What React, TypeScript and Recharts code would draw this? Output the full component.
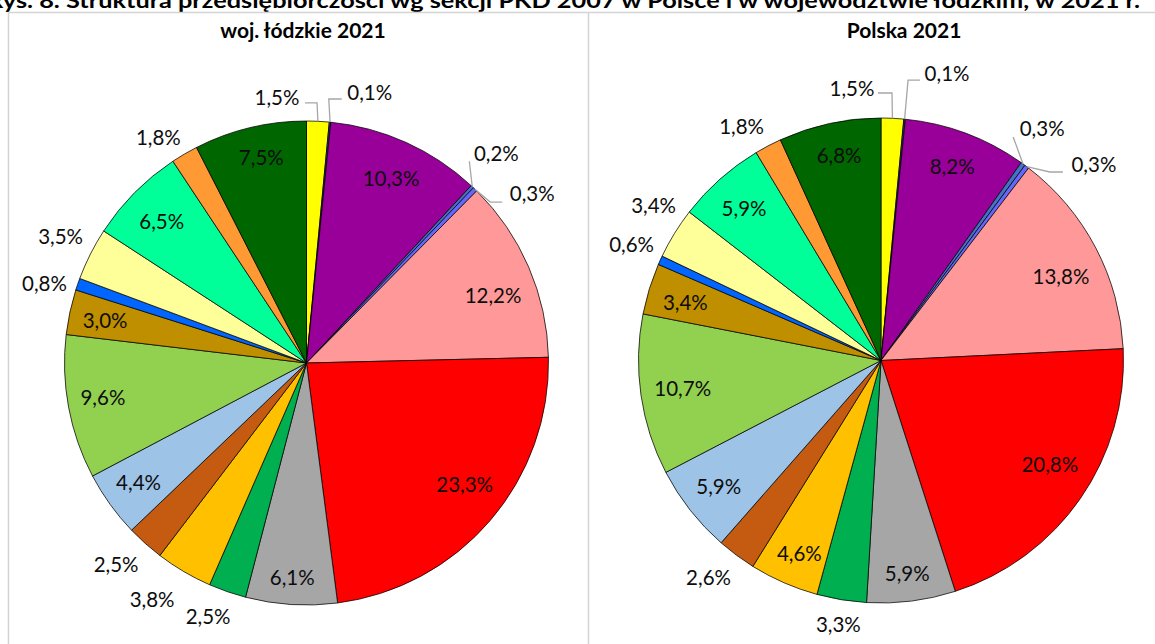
import { PieChart, Pie, Cell } from "recharts";

// sekcje PKD 2007, A..S
const sections = ["A", "B", "C", "D", "E", "F", "G", "H", "I", "J", "K", "L", "M", "N", "O", "P", "Q", "R", "S"];
const lodzkie2021 = [1.5, 0.1, 10.3, 0.2, 0.3, 12.2, 23.3, 6.1, 2.5, 3.8, 2.5, 4.4, 9.6, 3.0, 0.8, 3.5, 6.5, 1.8, 7.5];
const polska2021 = [1.5, 0.1, 8.2, 0.3, 0.3, 13.8, 20.8, 5.9, 3.3, 4.6, 2.6, 5.9, 10.7, 3.4, 0.6, 3.4, 5.9, 1.8, 6.8];

const sectionColors = [
  "#FFFF00", "#333399", "#990099", "#4472C4", "#6666FF", "#FF9999", "#FF0000", "#A6A6A6", "#00B050", "#FFC000",
  "#C55A11", "#9DC3E6", "#92D050", "#BF8F00", "#0066FF", "#FFFF99", "#00FF99", "#FF9933", "#006600",
];

const mainTitle = "Rys. 8. Struktura przedsiębiorczości wg sekcji PKD 2007 w Polsce i w województwie łódzkim, w 2021 r.";
const leftTitle = "woj. łódzkie 2021";
const rightTitle = "Polska 2021";

type Lead = { sx: number; sy: number; ex: number };
type Place = { da: number; rf: number; lead?: Lead };

// label placement (angle shift in degrees, radius factor), per slice
const leftPlaces: Place[] = [
  { da: -9.05, rf: 1.102, lead: { sx: 28, sy: 5, ex: 12 } },
  { da: 7.6, rf: 1.146, lead: { sx: -28, sy: 6, ex: -13 } },
  { da: 0.25, rf: 0.84 },
  { da: -1.1, rf: 1.169, lead: { sx: -27, sy: 8, ex: 0 } },
  { da: 9.05, rf: 1.165, lead: { sx: -30, sy: 8, ex: -12 } },
  { da: 3.6, rf: 0.819 },
  { da: -3.1, rf: 0.824 },
  { da: 0.2, rf: 0.89 },
  { da: 2.1, rf: 1.124 },
  { da: 2.7, rf: 1.167 },
  { da: 1.6, rf: 1.145 },
  { da: 0.4, rf: 0.851 },
  { da: 1.0, rf: 0.853 },
  { da: -0.4, rf: 0.85 },
  { da: -2.2, rf: 1.131 },
  { da: 0.4, rf: 1.142 },
  { da: -0.4, rf: 0.837 },
  { da: -3.0, rf: 1.116 },
  { da: 1.1, rf: 0.869 },
];

const rightPlaces: Place[] = [
  { da: -8.8, rf: 1.126, lead: { sx: 26, sy: 4, ex: 14 } },
  { da: 7.4, rf: 1.212, lead: { sx: -27, sy: 6, ex: -12 } },
  { da: -0.35, rf: 0.85 },
  { da: -1.0, rf: 1.163, lead: { sx: -29, sy: 8, ex: 0 } },
  { da: 10.5, rf: 1.192, lead: { sx: -31, sy: 7, ex: -13 } },
  { da: 2.8, rf: 0.818 },
  { da: -2.9, rf: 0.819 },
  { da: 0.2, rf: 0.887 },
  { da: -0.2, rf: 1.104 },
  { da: -0.7, rf: 0.865 },
  { da: 1.9, rf: 1.143 },
  { da: 0.3, rf: 0.847 },
  { da: 0, rf: 0.826 },
  { da: -0.8, rf: 0.841 },
  { da: 0.5, rf: 1.134 },
  { da: 2.6, rf: 1.134 },
  { da: -0.5, rf: 0.842 },
  { da: -3.1, rf: 1.121 },
  { da: 0.7, rf: 0.862 },
];

const FONT = "Lato, 'Open Sans', sans-serif";
const RAD = Math.PI / 180;

const fmt = (v: number) => v.toFixed(1).replace(".", ",") + "%";

function makeLabel(values: number[], places: Place[]) {
  return (props: any) => {
    const { cx, cy, midAngle, outerRadius, index } = props;
    const p = places[index];
    const a = (90 - midAngle + p.da) * RAD;
    const x = cx + outerRadius * p.rf * Math.sin(a);
    const y = cy - outerRadius * p.rf * Math.cos(a);
    let line = null;
    if (p.lead) {
      const m = (90 - midAngle) * RAD;
      const px = cx + outerRadius * Math.sin(m);
      const py = cy - outerRadius * Math.cos(m);
      const sx = x + p.lead.sx;
      const sy = y + p.lead.sy;
      const ex = sx + p.lead.ex;
      line = (
        <polyline
          points={`${px},${py} ${ex},${sy} ${sx},${sy}`}
          fill="none"
          stroke="#A6A6A6"
          strokeWidth={1.3}
        />
      );
    }
    return (
      <g key={`lbl-${index}`}>
        {line}
        <text x={x} y={y} dy="0.36em" textAnchor="middle" fontFamily={FONT} fontSize={20.5} fill="#0D0D0D">
          {fmt(values[index])}
        </text>
      </g>
    );
  };
}

const toData = (values: number[]) => sections.map((s, i) => ({ name: s, value: values[i] }));

export default function App() {
  const leftData = toData(lodzkie2021);
  const rightData = toData(polska2021);
  return (
    <div style={{ position: "fixed", left: 0, top: 0, width: 1155, height: 644, overflow: "hidden", background: "#fff" }}>
      <svg width={1155} height={644} style={{ position: "absolute", left: 0, top: 0 }}>
        <text x={-13} y={8} fontFamily={FONT} fontWeight={700} fontSize={21} fill="#000" textLength={1153} lengthAdjust="spacingAndGlyphs">
          {mainTitle}
        </text>
        <line x1={8.5} y1={12.5} x2={1155} y2={12.5} stroke="#D4D4D4" strokeWidth={1.5} />
        <line x1={8.5} y1={12.5} x2={8.5} y2={644} stroke="#D4D4D4" strokeWidth={1.5} />
        <line x1={588.5} y1={12.5} x2={588.5} y2={644} stroke="#D4D4D4" strokeWidth={1.5} />
      </svg>
      <div style={{ position: "absolute", left: 0, top: 19, width: 606, textAlign: "center", fontFamily: FONT, fontWeight: 700, fontSize: 21, lineHeight: "22px" }}>
        {leftTitle}
      </div>
      <div style={{ position: "absolute", left: 604, top: 19, width: 600, textAlign: "center", fontFamily: FONT, fontWeight: 700, fontSize: 21, lineHeight: "22px" }}>
        {rightTitle}
      </div>
      <div style={{ position: "absolute", left: 0, top: 0 }}>
        <PieChart width={1155} height={644} margin={{ top: 0, right: 0, bottom: 0, left: 0 }}>
          <Pie
            data={leftData}
            dataKey="value"
            cx={306.5}
            cy={363}
            outerRadius={242}
            startAngle={90}
            endAngle={-270}
            stroke="#000"
            strokeWidth={0.75}
            label={makeLabel(lodzkie2021, leftPlaces)}
            labelLine={false}
            isAnimationActive={false}
          >
            {leftData.map((d, i) => (
              <Cell key={d.name} fill={sectionColors[i]} />
            ))}
          </Pie>
          <Pie
            data={rightData}
            dataKey="value"
            cx={881}
            cy={360.5}
            outerRadius={242.5}
            startAngle={90}
            endAngle={-270}
            stroke="#000"
            strokeWidth={0.75}
            label={makeLabel(polska2021, rightPlaces)}
            labelLine={false}
            isAnimationActive={false}
          >
            {rightData.map((d, i) => (
              <Cell key={d.name} fill={sectionColors[i]} />
            ))}
          </Pie>
        </PieChart>
      </div>
    </div>
  );
}
